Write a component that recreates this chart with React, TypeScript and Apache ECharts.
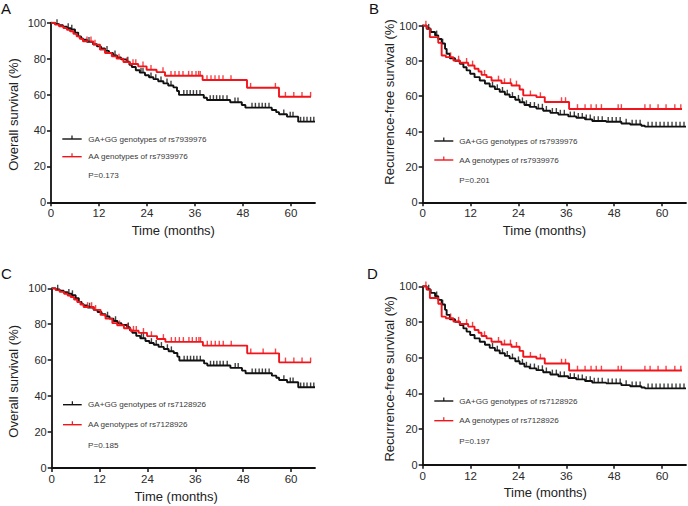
import React, { useEffect, useRef } from "react";
import * as echarts from "echarts";

// ---------- tick labels ----------
const xTicks = [0, 12, 24, 36, 48, 60];
const yTicks = [0, 20, 40, 60, 80, 100];

// ---------- Panel A: overall survival, rs7939976 ----------
const aBlackSteps: [number, number][] = [
  [0, 100], [1, 99.3], [2, 98.6], [3, 97.8], [4, 97], [5, 96.2], [6, 94.5], [6.8, 92.4], [7.5, 91.2],
  [8, 90.5], [9, 89.3], [10.5, 88], [11.5, 86.8], [12.5, 85.6], [13.5, 84.3], [14.5, 83.1], [15.5, 81.8],
  [16.5, 80.6], [17.5, 79.6], [18.9, 78.3], [19.6, 76.6], [20.2, 75.3], [21.2, 73.5], [22.2, 72.2],
  [23.5, 70.7], [24.5, 69.6], [25.6, 68.6], [26.8, 67.4], [28.1, 66.2], [29.3, 65], [30.6, 64],
  [31.5, 62], [32, 59.8], [38.2, 58.2], [39, 57], [44.8, 55.7], [47.7, 54.2], [48.6, 52.7],
  [55.2, 51.4], [56.3, 50.2], [57, 49], [59, 47.7], [61.8, 44.9], [66, 44.9],
];
const aBlackCensor = [
  1.5, 4.3, 5.2, 9.5, 14, 16, 19.2, 22.5, 23, 25, 26.2, 27.5, 29, 30, 33.2, 34, 34.8, 35.6, 36.4, 37.25,
  39.8, 40.6, 41.4, 42.2, 43, 44, 46, 46.75, 50.25, 51.1, 52, 52.8, 53.6, 54.5, 58.2, 59.8, 60.5, 62.4,
  63.2, 64, 64.9, 65.7,
];
const aRedSteps: [number, number][] = [
  [0, 100], [1, 99], [2, 98], [3.1, 97], [4, 96], [4.75, 95.2], [5.6, 93.8], [6.4, 92.4], [7.2, 91],
  [8, 89.6], [10.6, 87.8], [12.25, 85], [13.5, 83.1], [15.2, 81.3], [16.4, 80], [18.1, 78.1],
  [19.75, 77], [21.8, 75.7], [23.9, 73.8], [26.4, 72.5], [28.5, 70.5], [37.9, 68.1], [49, 63.8],
  [57, 58.8], [65, 58.8],
];
const aRedCensor = [
  9, 10, 11, 17, 19, 20.5, 21.2, 23, 25, 28, 30, 31, 32, 33, 34.4, 35.25, 36.25, 36.9, 37.3, 39, 40, 41,
  42, 43, 45, 49.9, 56.1, 58.6, 60.7, 62.75, 64.9,
];

// ---------- Panel B: recurrence-free survival, rs7939976 ----------
const bBlackSteps: [number, number][] = [
  [0, 100], [1, 98.2], [2, 96.3], [3.1, 94.4], [3.9, 92.4], [4.75, 89.8], [5.6, 86.8], [6, 84],
  [6.8, 81.5], [8.1, 80.1], [9.3, 78.3], [10.2, 76.4], [11, 74.6], [11.9, 72.7], [13, 70.8],
  [14.3, 68.9], [15.6, 67.2], [16.8, 65.5], [18.1, 64], [19.3, 62.5], [20.6, 61], [21.8, 59.6],
  [23.2, 58], [24.3, 56.6], [25.5, 55], [26.8, 54], [28.5, 53], [30.2, 51.8], [32, 50.6], [34, 49.6],
  [36.5, 48.6], [38.5, 47.8], [40.7, 46.9], [42.5, 46], [46, 45.6], [49.8, 44.6], [52, 44],
  [54.8, 43.3], [55.7, 42.8], [66, 42.8],
];
const bBlackCensor = [
  1.5, 3.5, 5, 17.5, 18.7, 20, 21.2, 22.5, 24, 25, 26, 27, 28, 29, 30, 31, 32.5, 33.5, 34.5, 35.5, 37,
  38, 39, 40, 41, 42, 43, 44, 45, 46.5, 47.5, 48.5, 49.5, 51, 52.5, 53.5, 54.5, 56.5, 57.5, 58.5, 59.5,
  60.5, 61.5, 62.5, 63.5, 64.5, 65.5,
];
const bRedSteps: [number, number][] = [
  [0, 100], [1, 98.5], [1.8, 93.4], [3.9, 90.2], [4.75, 83], [5.8, 82.1], [7.7, 80.2], [9.3, 78.9],
  [11.4, 77.4], [13, 75.5], [14, 74], [14.75, 72.1], [16, 70.8], [17.25, 68.9], [19.75, 67.4],
  [22.25, 66.1], [24.3, 63.8], [25.2, 60.5], [28.5, 59.5], [30.6, 56.7], [36.7, 52.8], [65, 52.8],
];
const bRedCensor = [
  0.8, 7, 9, 11, 12.5, 15.5, 19, 20.5, 22, 23.5, 27, 29.5, 34.8, 35.8, 38.8, 40.7, 42.2, 43.5, 44.8, 49,
  49.8, 55.7, 57, 59, 61, 63.2, 64.7,
];

// ---------- Panel C: overall survival, rs7128926 ----------
const cBlackSteps: [number, number][] = [
  [0, 100], [1, 99.3], [2, 98.6], [3, 97.8], [4, 97], [5, 96.2], [6, 94.5], [6.8, 92.4], [7.5, 91.2],
  [8, 90.5], [9, 89.3], [10.5, 88], [11.5, 86.8], [12.5, 85.6], [13.5, 84.3], [14.5, 83.1], [15.5, 81.8],
  [16.5, 80.6], [17.5, 79.6], [18.9, 78.3], [19.6, 76.6], [20.2, 75.3], [21.2, 73.5], [22.2, 72.2],
  [23.5, 70.7], [24.5, 69.6], [25.6, 68.6], [26.8, 67.4], [28.1, 66.2], [29.3, 65], [30.6, 64],
  [31.5, 62], [32, 59.8], [38.2, 58.2], [39, 57], [44.8, 55.7], [47.7, 54.2], [48.6, 52.7],
  [55.2, 51.4], [56.3, 50.2], [57, 49], [59, 47.7], [61.8, 44.9], [66, 44.9],
];
const cBlackCensor = [
  1.5, 4.3, 5.2, 9.5, 14, 16, 19.2, 22.5, 23, 25, 26.2, 27.5, 29, 30, 33.2, 34, 34.8, 35.6, 36.4, 37.25,
  39.8, 40.6, 41.4, 42.2, 43, 44, 46, 46.75, 50.25, 51.1, 52, 52.8, 53.6, 54.5, 58.2, 59.8, 60.5, 62.4,
  63.2, 64, 64.9, 65.7,
];
const cRedSteps: [number, number][] = [
  [0, 100], [1, 99], [2, 98], [3.1, 97], [4, 96], [4.75, 95.2], [5.6, 93.8], [6.4, 92.4], [7.2, 91],
  [8, 89.6], [10.6, 88], [12.25, 85.2], [13.5, 83.1], [15.2, 80.6], [16.4, 79.4], [18.1, 77.8],
  [19.75, 76.4], [21.8, 75.2], [23.9, 73.4], [26.4, 71.8], [28.5, 70.2], [37.9, 68.1], [49, 63.8],
  [57, 58.8], [65, 58.8],
];
const cRedCensor = [
  9, 10, 11, 17, 19, 20.5, 21.2, 23, 25, 28, 30, 31, 32, 33, 34.4, 35.25, 36.25, 36.9, 37.3, 39, 40, 41,
  42, 43, 45, 49.9, 53, 56.1, 58.6, 60.7, 62.75, 64.9,
];

// ---------- Panel D: recurrence-free survival, rs7128926 ----------
const dBlackSteps: [number, number][] = [
  [0, 100], [1, 98.2], [2, 96.3], [3.1, 94.4], [3.9, 92.4], [4.75, 89.8], [5.6, 86.8], [6, 84],
  [6.8, 81.5], [8.1, 80.1], [9.3, 78.3], [10.2, 76.4], [11, 74.6], [11.9, 72.7], [13, 70.8],
  [14.3, 68.9], [15.6, 67.2], [16.8, 65.5], [18.1, 64], [19.3, 62.5], [20.6, 61], [21.8, 59.6],
  [23.2, 58], [24.3, 56.6], [25.5, 55], [26.8, 54], [28.5, 53], [30.2, 51.8], [32, 50.6], [34, 49.6],
  [36.5, 48.6], [38.5, 47.8], [40.7, 46.9], [42.5, 46], [46, 45.6], [49.8, 44.6], [52, 44],
  [54.8, 43.3], [55.7, 42.8], [66, 42.8],
];
const dBlackCensor = [
  1.5, 3.5, 5, 17.5, 18.7, 20, 21.2, 22.5, 24, 25, 26, 27, 28, 29, 30, 31, 32.5, 33.5, 34.5, 35.5, 37,
  38, 39, 40, 41, 42, 43, 44, 45, 46.5, 47.5, 48.5, 49.5, 51, 52.5, 53.5, 54.5, 56.5, 57.5, 58.5, 59.5,
  60.5, 61.5, 62.5, 63.5, 64.5, 65.5,
];
const dRedSteps: [number, number][] = [
  [0, 100], [1, 98.5], [1.8, 93.4], [3.9, 90.2], [4.75, 83], [5.8, 82.1], [7.7, 80.2], [9.3, 78.9],
  [11.4, 77.4], [13, 75.5], [14, 74], [14.75, 72.1], [16, 70.8], [17.25, 68.9], [19.75, 67.4],
  [22.25, 66.1], [24.3, 63.8], [25.2, 60.5], [28.5, 59.5], [30.6, 56.7], [36.7, 52.8], [65, 52.8],
];
const dRedCensor = [
  0.8, 7, 9, 11, 12.5, 15.5, 19, 20.5, 22, 23.5, 27, 29.5, 34.8, 35.8, 38.8, 40.7, 42.2, 43.5, 44.8, 49,
  49.8, 55.7, 57, 59, 61, 63.2, 64.7,
];

// ---------- texts ----------
const panelLetters = ["A", "B", "C", "D"];
const yNames = [
  "Overall survival (%)",
  "Recurrence-free survival (%)",
  "Overall survival (%)",
  "Recurrence-free survival (%)",
];
const xName = "Time (months)";
const blackNames = [
  "GA+GG genotypes of rs7939976",
  "GA+GG genotypes of rs7939976",
  "GA+GG genotypes of rs7128926",
  "GA+GG genotypes of rs7128926",
];
const redNames = [
  "AA genotypes of rs7939976",
  "AA genotypes of rs7939976",
  "AA genotypes of rs7128926",
  "AA genotypes of rs7128926",
];
const pValues = ["P=0.173", "P=0.201", "P=0.185", "P=0.197"];

const blackSteps = [aBlackSteps, bBlackSteps, cBlackSteps, dBlackSteps];
const blackCensor = [aBlackCensor, bBlackCensor, cBlackCensor, dBlackCensor];
const redSteps = [aRedSteps, bRedSteps, cRedSteps, dRedSteps];
const redCensor = [aRedCensor, bRedCensor, cRedCensor, dRedCensor];

// ---------- layout (positions only) ----------
const layouts = [
  {
    grid: { left: 51, top: 22.7, width: 264, height: 179.6 },
    letter: [1, 8], yName: [13.3, 114.5], xName: [173.3, 230],
    legX: [62.3, 81.7], legText: 88.3, legY: [139, 156.7], pY: 175,
  },
  {
    grid: { left: 422.7, top: 25.5, width: 263.3, height: 176.8 },
    letter: [369, 8], yName: [389, 102], xName: [544.5, 230],
    legX: [434.3, 453.3], legText: 459.3, legY: [141, 160], pY: 180.7,
  },
  {
    grid: { left: 51.7, top: 288.3, width: 263.3, height: 179.7 },
    letter: [1, 273.5], yName: [13.3, 381.3], xName: [176.2, 496.3],
    legX: [63, 81.7], legText: 88, legY: [404.7, 424.7], pY: 445.3,
  },
  {
    grid: { left: 422.7, top: 286.3, width: 263.3, height: 178.4 },
    letter: [367, 273.5], yName: [389, 378.8], xName: [545.3, 492.3],
    legX: [434.3, 453.3], legText: 459.3, legY: [401, 420.7], pY: 441,
  },
];

const FONT = "'Liberation Sans', Arial, Helvetica, sans-serif";
const BLACK = "#111111";
const RED = "#f2141b";

function stepAt(steps: [number, number][], t: number): number {
  let v = steps[0][1];
  for (const [x, y] of steps) {
    if (x <= t) v = y;
    else break;
  }
  return v;
}

export default function App() {
  const ref = useRef<HTMLDivElement>(null);

  useEffect(() => {
    document.body.style.margin = "0";
    if (!ref.current) return;
    const chart = echarts.init(ref.current, undefined, { renderer: "svg" });

    const grids: any[] = [];
    const xAxes: any[] = [];
    const yAxes: any[] = [];
    const series: any[] = [];
    const graphics: any[] = [];

    layouts.forEach((L, i) => {
      grids.push({ ...L.grid, containLabel: false });
      xAxes.push({
        type: "value",
        gridIndex: i,
        min: 0,
        max: 66,
        interval: 12,
        splitLine: { show: false },
        axisLine: { show: true, onZero: false, lineStyle: { color: "#111", width: 1.8 } },
        axisTick: { show: true, length: 4, lineStyle: { color: "#111", width: 1.5 }, customValues: xTicks },
        axisLabel: { color: "#2a2a2a", fontSize: 11.5, fontFamily: FONT, margin: 5, customValues: xTicks },
      });
      yAxes.push({
        type: "value",
        gridIndex: i,
        min: 0,
        max: 100,
        interval: 20,
        splitLine: { show: false },
        axisLine: { show: true, onZero: false, lineStyle: { color: "#111", width: 1.8 } },
        axisTick: { show: true, length: 4, lineStyle: { color: "#111", width: 1.5 }, customValues: yTicks },
        axisLabel: { color: "#2a2a2a", fontSize: 11, fontFamily: FONT, margin: 5, customValues: yTicks },
      });

      const groups = [
        { name: blackNames[i], steps: blackSteps[i], cens: blackCensor[i], color: BLACK },
        { name: redNames[i], steps: redSteps[i], cens: redCensor[i], color: RED },
      ];
      groups.forEach((g) => {
        series.push({
          type: "line",
          name: g.name,
          xAxisIndex: i,
          yAxisIndex: i,
          step: "end",
          symbol: "none",
          data: g.steps,
          lineStyle: { color: g.color, width: 1.9 },
          z: 3,
        });
        series.push({
          type: "scatter",
          name: g.name,
          xAxisIndex: i,
          yAxisIndex: i,
          symbol: "rect",
          symbolSize: [1.4, 4.8],
          symbolOffset: [0, -2.4],
          itemStyle: { color: g.color },
          data: g.cens.map((t) => [t, stepAt(g.steps, t)]),
          z: 4,
        });
      });

      // panel letter
      graphics.push({
        type: "text",
        x: L.letter[0],
        y: L.letter[1],
        style: { text: panelLetters[i], fontSize: 15, fontFamily: FONT, fill: "#111", align: "left", verticalAlign: "middle" },
      });
      // axis names
      graphics.push({
        type: "text",
        x: L.yName[0],
        y: L.yName[1],
        rotation: Math.PI / 2,
        style: { text: yNames[i], fontSize: 13, fontFamily: FONT, fill: "#222", align: "center", verticalAlign: "middle" },
      });
      graphics.push({
        type: "text",
        x: L.xName[0],
        y: L.xName[1],
        style: { text: xName, fontSize: 13, fontFamily: FONT, fill: "#222", align: "center", verticalAlign: "middle" },
      });
      // legend entries
      const legColors = [BLACK, RED];
      const legNames = [blackNames[i], redNames[i]];
      legColors.forEach((c, k) => {
        const y = L.legY[k];
        const mid = (L.legX[0] + L.legX[1]) / 2;
        graphics.push({
          type: "line",
          shape: { x1: L.legX[0], y1: y, x2: L.legX[1], y2: y },
          style: { stroke: c, lineWidth: 1.4 },
        });
        graphics.push({
          type: "line",
          shape: { x1: mid, y1: y, x2: mid, y2: y - 3.5 },
          style: { stroke: c, lineWidth: 1.2 },
        });
        graphics.push({
          type: "text",
          x: L.legText,
          y,
          style: { text: legNames[k], fontSize: 8.1, fontFamily: FONT, fill: "#3a3a3a", align: "left", verticalAlign: "middle" },
        });
      });
      graphics.push({
        type: "text",
        x: L.legText,
        y: L.pY,
        style: { text: pValues[i], fontSize: 8.1, fontFamily: FONT, fill: "#3a3a3a", align: "left", verticalAlign: "middle" },
      });
    });

    chart.setOption({
      animation: false,
      backgroundColor: "#ffffff",
      grid: grids,
      xAxis: xAxes,
      yAxis: yAxes,
      series,
      graphic: graphics,
    });

    return () => chart.dispose();
  }, []);

  return <div ref={ref} style={{ width: 688, height: 506 }} />;
}
